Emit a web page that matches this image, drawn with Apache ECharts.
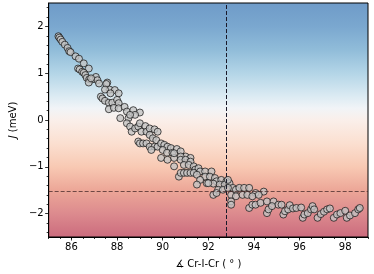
<!DOCTYPE html>
<html><head><meta charset="utf-8">
<script src="https://cdn.jsdelivr.net/npm/echarts@6/dist/echarts.min.js"></script>
<style>html,body{margin:0;padding:0;background:#fff}#c{width:374px;height:274px}</style>
</head><body><div id="c"></div>
<script>
const angles = [85.43,85.47,85.53,85.60,85.71,85.83,85.90,85.96,86.18,86.33,86.54,86.76,
86.29,86.36,86.47,86.54,86.61,86.67,86.78,86.93,87.07,87.14,86.76,87.21,87.57,86.86,87.53,87.67,87.47,87.90,88.07,87.71,
87.29,87.36,87.47,87.64,87.79,88.00,88.07,87.64,87.86,88.07,88.33,88.43,88.71,89.00,88.79,88.14,88.50,88.57,
88.43,88.57,88.64,88.79,88.93,89.00,89.24,89.07,89.29,89.43,89.64,89.78,89.43,89.57,89.72,
88.93,89.00,89.14,89.29,89.43,89.64,89.50,89.78,89.93,90.07,90.21,90.36,90.00,90.19,90.43,90.62,89.93,90.50,91.00,91.22,
90.50,90.79,90.79,90.21,90.79,91.00,91.22,90.50,90.93,91.14,91.36,91.43,91.57,91.64,91.86,92.14,91.86,92.07,92.29,92.36,92.57,92.79,
90.71,90.79,90.93,91.07,91.22,91.36,91.50,91.64,91.50,91.93,92.22,92.50,92.72,92.93,93.07,
92.86,92.00,92.43,
92.22,92.36,92.64,92.86,93.21,93.36,93.57,93.79,94.07,94.43,93.00,93.21,93.50,93.71,93.93,94.21,93.00,93.00,
93.79,93.93,94.07,94.29,94.57,94.86,95.07,94.57,94.64,94.79,
95.21,95.29,95.36,95.50,95.57,95.71,95.86,96.07,96.14,96.21,96.36,96.50,96.57,96.64,96.79,96.93,97.07,97.21,97.33,
97.50,97.64,97.79,98.00,98.07,98.21,98.43,98.57,98.64];
const jValues = [1.79,1.76,1.72,1.67,1.61,1.54,1.47,1.45,1.36,1.31,1.21,1.10,
1.10,1.08,1.03,1.01,0.96,0.90,0.87,0.87,0.92,0.85,0.80,0.78,0.80,0.89,0.77,0.65,0.65,0.64,0.57,0.57,
0.50,0.46,0.41,0.37,0.37,0.43,0.36,0.23,0.26,0.25,0.28,0.18,0.21,0.16,0.11,0.04,0.04,0.11,
-0.07,-0.14,-0.25,-0.18,-0.14,-0.07,-0.13,-0.25,-0.25,-0.18,-0.20,-0.25,-0.32,-0.39,-0.43,
-0.46,-0.50,-0.50,-0.50,-0.57,-0.57,-0.64,-0.57,-0.50,-0.53,-0.57,-0.60,-0.64,-0.70,-0.70,-0.62,-0.81,-0.81,-0.78,-0.81,
-0.71,-0.67,-0.78,-0.85,-0.85,-0.85,-0.89,-0.99,-0.96,-0.96,-0.99,-1.06,-1.03,-1.10,-1.10,-1.10,-1.21,-1.21,-1.24,-1.31,-1.28,-1.31,
-1.21,-1.13,-1.13,-1.13,-1.13,-1.13,-1.17,-1.28,-1.38,-1.35,-1.36,-1.38,-1.38,-1.35,-1.45,
-1.28,-1.35,-1.49,
-1.60,-1.56,-1.49,-1.45,-1.49,-1.45,-1.45,-1.45,-1.56,-1.53,-1.60,-1.63,-1.60,-1.60,-1.63,-1.60,-1.74,-1.81,
-1.88,-1.81,-1.81,-1.77,-1.74,-1.74,-1.81,-1.99,-1.91,-1.84,
-1.81,-2.02,-1.95,-1.91,-1.82,-1.89,-1.88,-1.87,-2.09,-2.02,-1.99,-1.91,-1.84,-1.91,-2.09,-2.01,-1.96,-1.91,-1.89,
-2.09,-2.02,-1.99,-1.94,-2.09,-2.04,-1.99,-1.91,-1.88];
const xTicks = [86,88,90,92,94,96,98];
const yTicks = [-2,-1,0,1,2];
const yMinorTicks = [-2.4,-2.2,-1.8,-1.6,-1.4,-1.2,-0.8,-0.6,-0.4,-0.2,0.2,0.4,0.6,0.8,1.2,1.4,1.6,1.8,2.2,2.4];
const criticalAngle = 92.78;
const criticalJ = -1.52;

const pts = angles.map((a,i)=>[a,jValues[i]]);
const fmt = v => String(v).replace('-', '\u2212');
const font = 'DejaVu Sans';
const grad = new echarts.graphic.LinearGradient(0,0,0,1,[
 {offset:0,color:'#6f9bc8'},{offset:0.1,color:'#7aa7cf'},{offset:0.2,color:'#90bcd9'},
 {offset:0.3,color:'#b3d5e7'},{offset:0.4,color:'#dcebf3'},{offset:0.45,color:'#f1f4f7'},
 {offset:0.5,color:'#faefea'},{offset:0.6,color:'#fbdfd0'},{offset:0.7,color:'#f8c9b3'},
 {offset:0.8,color:'#eca697'},{offset:0.9,color:'#dc8a8e'},{offset:1,color:'#cb6b7d'}]);
const base = {min:85,max:99,type:'value',splitLine:{show:false}};
const option = {
 animation:false,
 grid:{left:42,right:6,top:3,bottom:37,show:true,backgroundColor:grad,borderColor:'#000',borderWidth:1},
 xAxis:[
  Object.assign({},base,{position:'bottom',interval:0.5,axisLine:{show:false,onZero:false},
    axisTick:{show:true,length:2,lineStyle:{color:'#000',width:0.8}},axisLabel:{show:false}}),
  Object.assign({},base,{position:'bottom',axisLine:{show:true,onZero:false,lineStyle:{color:'#000',width:1}},
    axisTick:{show:true,length:3.5,customValues:xTicks,lineStyle:{color:'#000',width:0.8}},
    axisLabel:{customValues:xTicks,color:'#000',fontFamily:font,fontSize:10,margin:5,formatter:fmt},
    name:'\u2221 Cr-I-Cr ( \u00b0 )',nameLocation:'middle',nameGap:22,
    nameTextStyle:{color:'#000',fontFamily:font,fontSize:10}})
 ],
 yAxis:[
  {type:'value',min:-2.5,max:2.5,position:'left',splitLine:{show:false},axisLine:{show:false,onZero:false},
   axisTick:{show:true,length:2,customValues:yMinorTicks,lineStyle:{color:'#000',width:0.8}},axisLabel:{show:false}},
  {type:'value',min:-2.5,max:2.5,position:'left',splitLine:{show:false},
   axisLine:{show:true,onZero:false,lineStyle:{color:'#000',width:1}},
   axisTick:{show:true,length:3.5,customValues:yTicks,lineStyle:{color:'#000',width:0.8}},
   axisLabel:{customValues:yTicks,color:'#000',fontFamily:font,fontSize:10,margin:5,formatter:fmt},
   name:'{i|J} (meV)',nameLocation:'middle',nameGap:28,nameRotate:90,
   nameTextStyle:{color:'#000',fontFamily:font,fontSize:10,rich:{i:{fontStyle:'italic',fontFamily:font,fontSize:10,color:'#000'}}}}
 ],
 series:[{
  type:'scatter',xAxisIndex:1,yAxisIndex:1,data:pts,symbolSize:7,
  itemStyle:{color:'#c3c3c3',borderColor:'#111',borderWidth:0.9},
  markLine:{silent:true,symbol:'none',label:{show:false},
   data:[{xAxis:criticalAngle,lineStyle:{color:'#1a1a2a',type:[4,2],width:1}},
         {yAxis:criticalJ,lineStyle:{color:'rgba(70,40,40,0.75)',type:[4,2],width:1}}]}
 }]
};
echarts.init(document.getElementById('c'),null,{renderer:'canvas'}).setOption(option);
</script></body></html>
